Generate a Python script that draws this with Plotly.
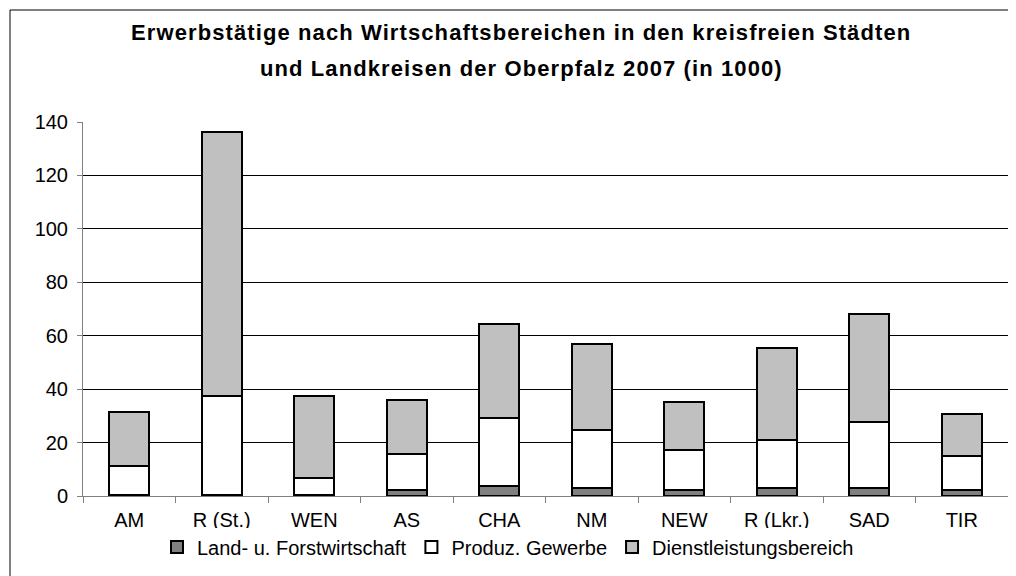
import plotly.graph_objects as go

categories = ["AM", "R (St.)", "WEN", "AS", "CHA", "NM", "NEW", "R (Lkr.)", "SAD", "TIR"]
land_forst = [0.3, 0.2, 0.2, 2.1, 3.6, 3.0, 2.2, 3.0, 3.0, 2.2]
produz_gewerbe = [10.8, 37.3, 6.5, 13.6, 25.6, 21.6, 15.0, 18.0, 24.7, 12.8]
dienstleistung = [20.3, 98.9, 30.8, 20.1, 35.2, 32.2, 18.0, 34.5, 40.5, 15.7]
series_names = ["Land- u. Forstwirtschaft", "Produz. Gewerbe", "Dienstleistungsbereich"]
series_colors = ["#808080", "#FFFFFF", "#C0C0C0"]
y_ticks = [0, 20, 40, 60, 80, 100, 120, 140]
title_lines = ["Erwerbstätige nach Wirtschaftsbereichen in den kreisfreien Städten",
               "und Landkreisen der Oberpfalz 2007 (in 1000)"]

FONT = "Liberation Sans, Arial, sans-serif"
OFF = 8  # page body margin
W, H = 1016 - OFF, 576 - OFF
L, T = 83 - OFF, 122 - OFF
R = W - (1008 - OFF)
B = H - (496 - OFF)
pw = W - L - R
ph = H - T - B

def px_x(X):
    return (X - OFF - L) / pw

def px_y(Y):
    return (H - B - (Y - OFF)) / ph

fig = go.Figure()
for name, vals, col in zip(series_names, [land_forst, produz_gewerbe, dienstleistung], series_colors):
    fig.add_trace(go.Bar(x=categories, y=vals, name=name,
                         marker=dict(color=col, line=dict(color="black", width=2))))

fig.update_layout(
    width=W, height=H,
    barmode="stack", bargap=0.57,
    paper_bgcolor="white", plot_bgcolor="white",
    margin=dict(l=L, r=R, t=T, b=B),
    font=dict(family=FONT, size=20, color="black"),
    showlegend=True,
    legend=dict(orientation="h", x=px_x(508), y=px_y(547), xanchor="center", yanchor="middle",
                font=dict(size=20), itemwidth=30, traceorder="normal"),
    xaxis=dict(type="category", showline=True, linecolor="#808080", linewidth=1,
               ticks="outside", ticklen=6, tickcolor="#808080", tickson="boundaries",
               ticklabelstandoff=6, showgrid=False, zeroline=False),
    yaxis=dict(range=[0, 140], tickvals=y_ticks, showline=True, linecolor="#808080", linewidth=1,
               ticks="outside", ticklen=5, tickcolor="#808080", ticklabelstandoff=5,
               showgrid=True, gridcolor="black", gridwidth=1, zeroline=False),
    annotations=[
        dict(text='<b><span style="letter-spacing:1.1px">' + title_lines[0] + '</span></b>',
             xref="paper", yref="paper", x=px_x(521), y=px_y(33), xanchor="center", yanchor="middle",
             showarrow=False, font=dict(size=22)),
        dict(text='<b><span style="letter-spacing:1.1px">' + title_lines[1] + '</span></b>',
             xref="paper", yref="paper", x=px_x(521), y=px_y(68), xanchor="center", yanchor="middle",
             showarrow=False, font=dict(size=22)),
    ],
    shapes=[
        dict(type="line", xref="paper", yref="paper", x0=px_x(10), x1=px_x(1030), y0=px_y(10), y1=px_y(10),
             line=dict(color="black", width=1), layer="below"),
        dict(type="line", xref="paper", yref="paper", x0=px_x(10), x1=px_x(10), y0=px_y(10), y1=px_y(600),
             line=dict(color="black", width=1), layer="below"),
    ],
)

fig.write_html("out.html")
